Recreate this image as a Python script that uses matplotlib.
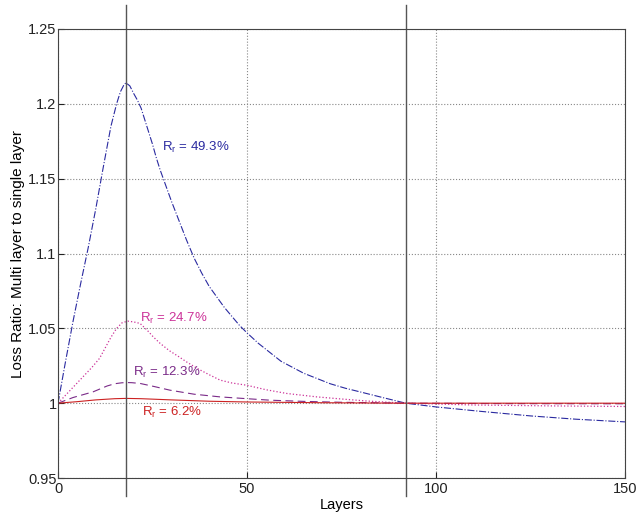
import matplotlib.pyplot as plt

plt.rcParams['font.family'] = ['Liberation Sans', 'DejaVu Sans']

# series (layers, loss ratio)
x_blue = [0, 2, 4, 6, 8, 10, 12, 14, 15.5, 16.5, 17.5, 18, 19, 20, 21, 22, 23, 24, 25, 26, 27, 28, 29, 30,
          32, 34, 36, 38, 40, 42, 44, 46, 48, 50, 53, 56, 59, 62, 65, 68.5, 72, 76, 80, 86, 92,
          100, 112, 125, 137, 150]
y_blue = [1.0, 1.028, 1.055, 1.08, 1.104, 1.13, 1.158, 1.185, 1.2, 1.208, 1.213, 1.214, 1.212, 1.207, 1.2025,
          1.197, 1.189, 1.181, 1.173, 1.164, 1.156, 1.149, 1.142, 1.135, 1.122, 1.109, 1.097, 1.087, 1.078,
          1.071, 1.064, 1.058, 1.052, 1.047, 1.04, 1.034, 1.028, 1.024, 1.02, 1.0165, 1.013, 1.01, 1.0075,
          1.0037, 1.0, 0.9975, 0.9945, 0.9915, 0.9893, 0.9875]

x_pink = [0, 3, 6, 9, 11, 12.5, 14, 15.5, 17, 18.5, 20, 21.7, 23.5, 25.2, 27, 29.5, 32, 34, 37, 40, 42.9,
          46, 49.9, 55, 60.5, 68.5, 75, 82, 92, 110, 130, 150]
y_pink = [1.0, 1.008, 1.016, 1.024, 1.03, 1.037, 1.044, 1.05, 1.0538, 1.0548, 1.0543, 1.0533, 1.049, 1.0443,
          1.04, 1.035, 1.031, 1.0276, 1.023, 1.019, 1.0154, 1.0135, 1.012, 1.009, 1.0065, 1.0042, 1.0028,
          1.0014, 1.0, 0.9988, 0.9982, 0.9978]

x_purple = [0, 4, 9.3, 13, 15, 16.8, 18, 19.5, 21.7, 25.5, 29.6, 36, 42.9, 50, 56.1, 65, 75, 92, 120, 150]
y_purple = [1.0, 1.0038, 1.0076, 1.0115, 1.013, 1.0136, 1.0138, 1.0137, 1.0132, 1.0111, 1.0087, 1.006, 1.0042,
            1.003, 1.002, 1.0012, 1.0006, 1.0, 0.9997, 0.9996]

x_red = [0, 5, 10, 15, 18, 22, 30, 40, 50, 70, 92, 120, 150]
y_red = [1.0, 1.001, 1.0022, 1.003, 1.0032, 1.003, 1.0022, 1.0013, 1.0008, 1.0003, 1.0, 1.0, 1.0]

vlines = [18, 92.1]

labels = ['$\\mathregular{R_r}$ = 49.3%', '$\\mathregular{R_r}$ = 24.7%',
          '$\\mathregular{R_r}$ = 12.3%', '$\\mathregular{R_r}$ = 6.2%']
label_pos = [(27.5, 1.1686), (21.6, 1.0543), (19.8, 1.018), (22.2, 0.9912)]

c_blue = '#2a2aa0'
c_pink = '#cc3399'
c_purple = '#7a2a88'
c_red = '#cc2222'

fig = plt.figure(figsize=(6.41, 5.15), dpi=100)
ax = fig.add_axes([0.0905, 0.0718, 0.8845, 0.8719])

ax.plot(x_blue, y_blue, color=c_blue, linestyle='-.', linewidth=0.8)
ax.plot(x_pink, y_pink, color=c_pink, linestyle=':', linewidth=0.9)
ax.plot(x_purple, y_purple, color=c_purple, linestyle=(0, (7, 4)), linewidth=0.8)
ax.plot(x_red, y_red, color=c_red, linestyle='-', linewidth=0.8)

for v in vlines:
    ax.plot([v, v], [0.9378, 1.266], color='#555555', linewidth=1.0, clip_on=False)

for txt, (tx, ty), c in zip(labels, label_pos, [c_blue, c_pink, c_purple, c_red]):
    ax.text(tx, ty, txt, color=c, fontsize=9.5, va='baseline', ha='left')

ax.set_xlim(0, 150)
ax.set_ylim(0.95, 1.25)
ax.set_xticks([0, 50, 100, 150])
ax.set_yticks([0.95, 1.0, 1.05, 1.1, 1.15, 1.2, 1.25])
ax.set_yticklabels(['0.95', '1', '1.05', '1.1', '1.15', '1.2', '1.25'])
ax.tick_params(direction='in', length=4, labelsize=10.5, pad=1, colors='#222222')
ax.tick_params(axis='x', pad=3)
ax.grid(True, linestyle=':', color='#888888', linewidth=0.8)
for s in ax.spines.values():
    s.set_color('#444444')
    s.set_linewidth(0.8)

ax.set_xlabel('Layers', fontsize=10.5, labelpad=1)
ax.set_ylabel('Loss Ratio: Multi layer to single layer', fontsize=11, labelpad=2)

plt.savefig('out.png', dpi=100)
